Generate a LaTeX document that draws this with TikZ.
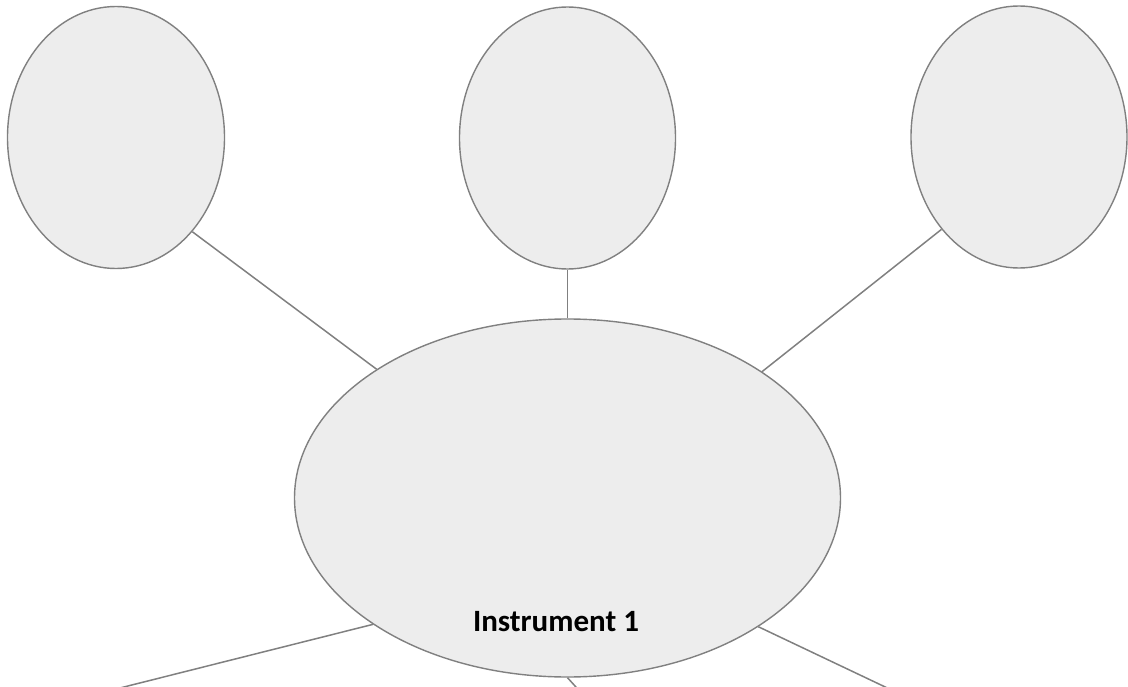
\documentclass[tikz,border=0pt]{standalone}
\usepackage{fontspec}
\newfontfamily\labelfont{Carlito}
\usetikzlibrary{shapes.geometric}
\tikzset{
  bubble/.style={ellipse, draw=black!50, line width=1.4pt, fill=black!7, inner sep=0pt},
  link/.style={draw=black!50, line width=1.5pt},
  lbl/.style={font=\labelfont\bfseries\fontsize{31}{36}\selectfont, inner sep=0pt, anchor=base}
}
\begin{document}
\begin{tikzpicture}[x=1pt,y=-1pt]
\useasboundingbox (0,0) rectangle (1128,687);
\clip (0,0) rectangle (1128,687);
\node[bubble, minimum width=217pt, minimum height=262pt] (tl) at (116,137.5) {};
\node[bubble, minimum width=216pt, minimum height=262pt] (tm) at (567.5,138) {};
\node[bubble, minimum width=216pt, minimum height=262pt] (tr) at (1019,137) {};
\node[bubble, minimum width=546pt, minimum height=358pt] (big) at (567.5,498) {};
\node[lbl] (txt) at (556,631) {Instrument 1};
\coordinate (bl) at (100,693);
\coordinate (bm) at (585,697);
\coordinate (br) at (900,694);
\draw[link] (tl.309.5) -- (big.146.9);
\draw[link] (tm.south) -- (big.north);
\draw[link] (tr.230.5) -- (big.33);
\draw[link] (big.213.1) -- (bl);
\draw[link] (big.south) -- (bm);
\draw[link] (big.326.8) -- (br);
\end{tikzpicture}
\end{document}
